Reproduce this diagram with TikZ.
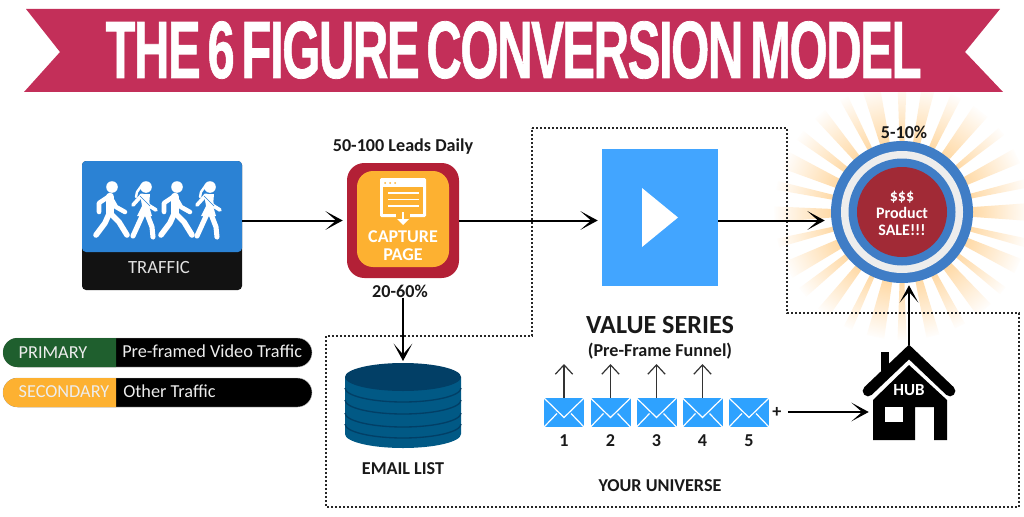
\documentclass[tikz,border=0pt]{standalone}
\usepackage{fontspec}
\usepackage{graphicx}
\setmainfont{Carlito}
\newfontfamily\titlefont[UprightFont={* Bold},FakeBold=1,LetterSpace=-3,WordSpace=0.55]{Liberation Sans}
\usetikzlibrary{shapes.misc, arrows.meta, positioning, calc, fadings}
\definecolor{bannerred}{HTML}{C32F59}
\definecolor{trafficblue}{HTML}{2B82D4}
\definecolor{captured}{HTML}{B32036}
\definecolor{captureorange}{HTML}{FDB131}
\definecolor{videoblue}{HTML}{42A5FF}
\definecolor{ringblue}{HTML}{3F7DC6}
\definecolor{salered}{HTML}{A12A36}
\definecolor{rayorange}{HTML}{FFAE3D}
\definecolor{dbbody}{HTML}{015985}
\definecolor{dbtop}{HTML}{023F66}
\definecolor{mailblue}{HTML}{2EA2FF}
\definecolor{primarygreen}{HTML}{1F5F2E}
\tikzfading[name=burstfade, inner color=transparent!100, outer color=transparent!0]
\tikzset{
  line/.style = {-{Stealth[length=13pt, width=14pt, inset=8pt]}, line width=1.5pt, black},
  upline/.style = {-{Straight Barb[length=7pt, width=13pt]}, line width=0.9pt, black!80},
  label/.style = {font=\bfseries\fontsize{13.6}{15}\selectfont, text=black!90, inner sep=0pt},
  whitelabel/.style = {font=\bfseries\fontsize{12.5}{14}\selectfont, text=white, inner sep=0pt},
  legendtext/.style = {font=\fontsize{13.7}{15}\selectfont, text=white!93!black, inner sep=0pt},
  legendbox/.style = {rounded rectangle, minimum height=21.75pt, inner sep=0pt, draw=black!25, line width=0.3pt},
  mailbox/.style = {rectangle, fill=mailblue, minimum width=30pt, minimum height=21.75pt, inner sep=0pt},
  walkline/.style = {white, line cap=round, line join=round},
  walkerman/.pic = {
    \fill[white] (0,0) circle (5.8);
    \draw[walkline, line width=6.5pt] (-2,10) -- (-2,26);
    \draw[walkline, line width=3.4pt] (-4,10) -- (-13,16) -- (-13,25);
    \draw[walkline, line width=3.4pt] (0,13) -- (4,20) -- (13,25);
    \draw[walkline, line width=4.2pt] (-3,27) -- (-7,36) -- (-16,48);
    \draw[walkline, line width=4.2pt] (-1,27) -- (7,35) -- (15,48);
  },
  walkerwoman/.pic = {
    \fill[white] (0,0) circle (5.8);
    \draw[walkline, line width=1.8pt] (-4,-2) -- (-9,5) -- (-10,10);
    \fill[white] (-6,7) -- (4,7) -- (3,19) -- (6,29) -- (-9,29) -- (-4,19) -- cycle;
    \draw[walkline, line width=2.8pt] (-4,8) -- (-13,18);
    \draw[walkline, line width=2.8pt] (0,9) -- (2,18) -- (10,23);
    \draw[walkline, line width=3.8pt] (-3,27) -- (-13,49);
    \draw[walkline, line width=3.8pt] (1,27) -- (6,40) -- (7,50);
    \draw[trafficblue, line width=0.5pt] (-6,9) -- (4,19);
  }
}

\begin{document}
\begin{tikzpicture}[x=0.75pt, y=-0.75pt]
\useasboundingbox (0,0) rectangle (1024,517);

% Burst behind the sale target
\coordinate (burst) at (902,212);
\foreach \a/\w in {0/4,14/2,25/3.5,38/2,50/4,63/2.5,76/3,90/2,102/4,115/2,128/3,141/2.5,153/4,166/2,179/3.5,192/2,204/4,217/2.5,230/3,243/2,256/4,270/2,282/3,295/2.5,308/4,321/2,334/3.5,347/2}{
  \fill[rayorange] (burst) -- ($(burst)+(\a-\w:128)$) -- ($(burst)+(\a+\w:128)$) -- cycle;
}
\fill[white, path fading=burstfade] (burst) circle (129);

% Dotted outline of the universe
\draw[black!85, line width=1.3pt, dash pattern=on 1.3pt off 1.7pt]
  (532,128) -- (787,128) -- (787,313) -- (1019,313) -- (1019,507) -- (326,507) -- (326,336) -- (532,336) -- cycle;

% Banner
\fill[bannerred] (26,9) -- (1000,9) -- (965,52) -- (1003,92) -- (24,92) -- (60,52) -- cycle;
\node[inner sep=0pt] (title) at (513.5,50) {\resizebox{612pt}{42.5pt}{\titlefont\textcolor{white}{THE 6 FIGURE CONVERSION MODEL}}};

% Traffic
\node[rectangle, rounded corners=3pt, fill=black!93, minimum width=120pt, minimum height=96.75pt, inner sep=0pt] (traffic) at (162,225.5) {};
\fill[trafficblue, rounded corners=3pt] (82,161) rectangle (242,252);
\foreach \x/\kind in {112/walkerman,146/walkerwoman,177/walkerman,210/walkerwoman}{
  \pic at (\x,187) {\kind};
}
\node[font=\fontsize{14}{16}\selectfont, text=white!88!black, inner sep=0pt] (trafficlabel) at (159,268) {TRAFFIC};

% Capture page
\node[rectangle, rounded corners=13pt, fill=captured, minimum width=84pt, minimum height=86.25pt, inner sep=0pt] (capture) at (403,220.5) {};
\node[rectangle, rounded corners=12pt, fill=captureorange, minimum width=69pt, minimum height=72pt, inner sep=0pt] (captureinner) at (403,219) {};
\fill[white, rounded corners=1pt] (380,178) rectangle (426,217);
\fill[captureorange] (383,187) rectangle (423,214);
\foreach \x in {385,390,395}{
  \fill[captureorange] (\x,183) circle (1);
}
\foreach \y in {193,199.5,206}{
  \draw[white, line width=1.2pt] (388,\y) -- (419,\y);
}
\fill[captureorange] (396,212) rectangle (410,219);
\draw[white, line width=1.5pt] (403,212) -- (403,220);
\fill[white] (397,219) -- (409,219) -- (403,225) -- cycle;
\node[whitelabel, align=center, font=\bfseries\fontsize{13.5}{13.5}\selectfont] (capturelabel) at (403,246) {CAPTURE\\PAGE};
\node[label, above=6pt of capture.north] (leads) {50-100 Leads Daily};
\node[label] (rate) at (400,291) {20-60\%};

% Video
\node[rectangle, fill=videoblue, minimum width=87pt, minimum height=102.75pt, inner sep=0pt] (video) at (660,217.5) {};
\fill[white] (642,188) -- (678,217.5) -- (642,247) -- cycle;

% Sale target
\node[circle, fill=ringblue, minimum size=106.5pt, inner sep=0pt] (sale) at (burst) {};
\fill[white!93!black] (sale) circle (61);
\fill[ringblue] (sale) circle (53.5);
\fill[salered] (sale) circle (45);
\node[whitelabel, align=center, font=\bfseries\fontsize{12}{12.8}\selectfont] (salelabel) at (902,213) {\$\$\$\\Product\\SALE!!!};
\node[label] (salerate) at (904,132) {5-10\%};

% Email list
\node[inner sep=0pt, minimum width=87pt, minimum height=50pt] (email) at (403,405) {};
\fill[dbbody] (345,377) -- (345,434) arc[start angle=180, end angle=0, x radius=58, y radius=14] -- (461,377) -- cycle;
\foreach \y in {388,400,413,424}{
  \draw[dbtop, line width=1pt] (345,\y) arc[start angle=180, end angle=0, x radius=58, y radius=14];
}
\fill[dbtop] (403,377) ellipse [x radius=58, y radius=14];
\node[label] (emaillabel) at (403,469) {EMAIL LIST};

% Value series
\node[label, font=\bfseries\fontsize{19.6}{21}\selectfont] (series) at (660,325) {VALUE SERIES};
\node[label] (funnel) at (660,351) {(Pre-Frame Funnel)};
\foreach \n/\x in {1/564,2/610.5,3/656.5,4/702.5,5/749}{
  \node[mailbox] (m\n) at (\x,412.5) {};
  \begin{scope}[shift={(m\n.center)}]
    \draw[white, line width=0.9pt] (-20,-14.5) -- (0,5) -- (20,-14.5);
    \draw[white, line width=0.9pt] (-20,14.5) -- (-7,1);
    \draw[white, line width=0.9pt] (20,14.5) -- (7,1);
  \end{scope}
  \node[label] (n\n) at (\x,441) {\n};
}
\node[label] (plus) at (777,412) {+};
\foreach \n/\x in {1/564,2/610.5,3/656.5,4/702.5}{
  \coordinate (u\n) at (\x,364);
  \draw[upline] (m\n.north) -- (u\n);
}
\node[label] (universe) at (660,486) {YOUR UNIVERSE};

% Hub
\node[inner sep=0pt, minimum width=57pt, minimum height=71.25pt] (hub) at (909,392.5) {};
\fill[black] (881,352) rectangle (889,378);
\draw[black, line width=8pt, line cap=round, line join=miter] (868,391) -- (909,352) -- (950,391);
\fill[black] (909,365) -- (947,400) -- (947,440) -- (934,440) -- (934,407) -- (915,407) -- (915,440) -- (873,440) -- (873,400) -- cycle;
\fill[white] (885,407) rectangle (903,422);
\node[whitelabel, font=\bfseries\fontsize{12.7}{14}\selectfont] (hublabel) at (909,390) {HUB};

% Legend
\node[legendbox, fill=black, minimum width=231.75pt] (primarybar) at (157.5,352.5) {};
\node[legendbox, fill=primarygreen, rounded rectangle right arc=none, minimum width=84.75pt, draw=none] (primary) at (59.5,352.5) {};
\node[legendtext] (primarylabel) at (53,353) {PRIMARY};
\node[legendtext, anchor=west] (primarytext) at (122,351) {Pre-framed Video Traffic};
\node[legendbox, fill=black, minimum width=231.75pt] (secondarybar) at (157.5,392.5) {};
\node[legendbox, fill=captureorange, rounded rectangle right arc=none, minimum width=84.75pt, draw=none] (secondary) at (59.5,392.5) {};
\node[legendtext] (secondarylabel) at (64,392) {SECONDARY};
\node[legendtext, anchor=west] (secondarytext) at (123,391) {Other Traffic};

% Arrows
\draw[line, shorten >=3pt] (traffic.east |- capture.west) -- (capture.west);
\draw[line, shorten >=3pt] (capture.east) -- (capture.east -| video.west);
\draw[line, shorten >=4.5pt] (video.east |- capture.east) -- (capture.east -| sale.west);
\draw[line] (rate.south -| email.north) -- (email.north |- 0,361);
\draw[line, shorten >=1.5pt] (hub.north) -- (hub.north |- sale.south);
\draw[line, shorten >=1.5pt] (plus.east) ++(6,0) -- (hub.west |- plus.east);

\end{tikzpicture}
\end{document}
